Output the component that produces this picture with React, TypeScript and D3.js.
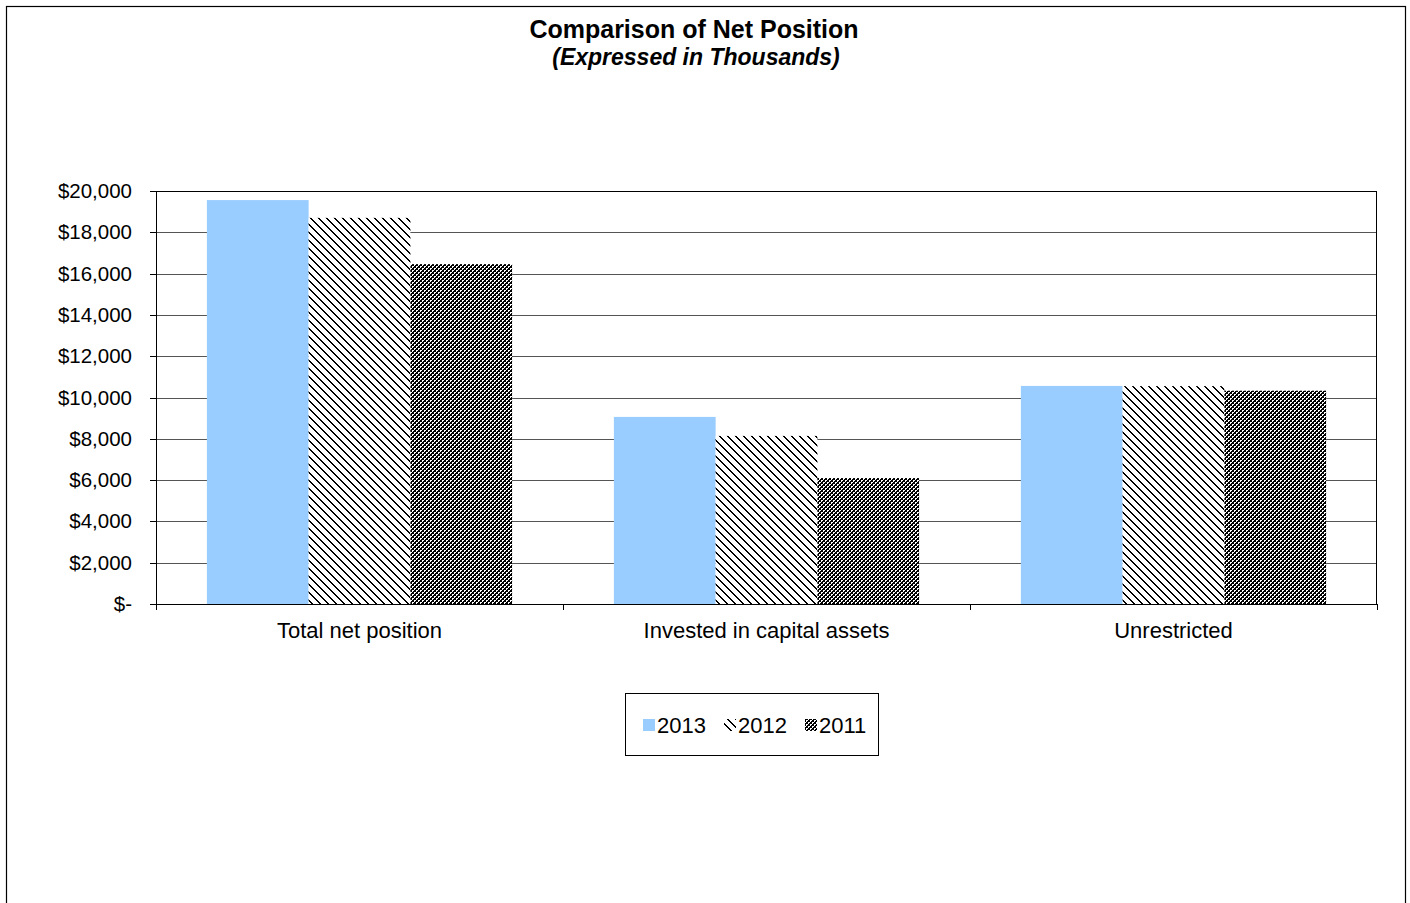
import React from "react";
import * as d3 from "d3";

const categories = ["Total net position", "Invested in capital assets", "Unrestricted"];
const seriesNames = ["2013", "2012", "2011"];
const values2013 = [19560, 9060, 10560];
const values2012 = [18700, 8140, 10550];
const values2011 = [16460, 6100, 10330];
const yTicks = [0, 2000, 4000, 6000, 8000, 10000, 12000, 14000, 16000, 18000, 20000];

const FONT = "'Liberation Sans', Arial, sans-serif";

const diagPixels: [number, number][] = [];
for (let i = 0; i < 8; i++) {
  diagPixels.push([i, i]);
  diagPixels.push([(i + 1) % 8, i]);
}

export default function App() {
  const W = 1410, H = 903;
  const left = 156, right = 1377, top = 191, bottom = 604;
  const y = d3.scaleLinear().domain([0, 20000]).range([bottom, top]);
  const x0 = d3.scaleBand<string>().domain(categories).range([left, right]).paddingInner(0).paddingOuter(0);
  const x1 = d3.scaleBand<string>().domain(seriesNames).range([0, x0.bandwidth()]).paddingInner(0).paddingOuter(0.5);
  const allValues = [values2013, values2012, values2011];
  const fills = ["#99ccff", "url(#diag)", "url(#check)"];
  const fmt = (v: number) => (v === 0 ? "$-" : "$" + d3.format(",")(v));

  const legendItems = [
    { name: seriesNames[0], fill: fills[0], sx: 643, tx: 657 },
    { name: seriesNames[1], fill: fills[1], sx: 724, tx: 738 },
    { name: seriesNames[2], fill: fills[2], sx: 805, tx: 819 },
  ];

  return (
    <svg width={W} height={H} style={{ position: "absolute", left: 0, top: 0, background: "#fff" }} fontFamily={FONT}>
      <defs>
        <pattern id="diag" width="8" height="8" patternUnits="userSpaceOnUse">
          <rect width="8" height="8" fill="#fff" />
          {diagPixels.map(([px, py], i) => (
            <rect key={i} x={px} y={py} width={1} height={1} fill="#000" shapeRendering="crispEdges" />
          ))}
        </pattern>
        <pattern id="check" width="4" height="4" patternUnits="userSpaceOnUse">
          <rect width="4" height="4" fill="#fff" />
          <rect x="0" y="0" width="2" height="2" fill="#000" shapeRendering="crispEdges" />
          <rect x="2" y="2" width="2" height="2" fill="#000" shapeRendering="crispEdges" />
          <rect x="3" y="1" width="1" height="1" fill="#000" shapeRendering="crispEdges" />
          <rect x="1" y="3" width="1" height="1" fill="#000" shapeRendering="crispEdges" />
        </pattern>
      </defs>
      <rect x={6.5} y={6.5} width={1399} height={930} fill="#fff" stroke="#000" strokeWidth={1.2} />
      <text x={694} y={38} textAnchor="middle" fontSize={25} fontWeight="bold">Comparison of Net Position</text>
      <text x={696} y={65} textAnchor="middle" fontSize={23} fontWeight="bold" fontStyle="italic">(Expressed in Thousands)</text>

      {yTicks.slice(1).map((t) => (
        <line key={"g" + t} x1={left} x2={right} y1={Math.round(y(t)) + 0.5} y2={Math.round(y(t)) + 0.5} stroke="#555" strokeWidth={1} />
      ))}

      {categories.map((c, ci) => (
        <g key={c} transform={`translate(${x0(c)},0)`}>
          {seriesNames.map((s, si) => (
            <rect key={s} x={x1(s)} y={y(allValues[si][ci])} width={x1.bandwidth()} height={bottom - y(allValues[si][ci])} fill={fills[si]} />
          ))}
        </g>
      ))}

      <line x1={left} x2={right} y1={top + 0.5} y2={top + 0.5} stroke="#000" />
      <line x1={right - 0.5} x2={right - 0.5} y1={top} y2={bottom} stroke="#000" />
      <line x1={left + 0.5} x2={left + 0.5} y1={top} y2={bottom + 4} stroke="#000" />
      <line x1={left} x2={right} y1={bottom + 0.5} y2={bottom + 0.5} stroke="#000" />

      {yTicks.map((t) => (
        <g key={"t" + t}>
          <line x1={150} x2={left} y1={Math.round(y(t)) + 0.5} y2={Math.round(y(t)) + 0.5} stroke="#000" />
          <text x={132} y={y(t) + 7} textAnchor="end" fontSize={20.5}>{fmt(t)}</text>
        </g>
      ))}

      {[...categories.map((c) => x0(c) as number), right].map((xv, i) => (
        <line key={"ct" + i} x1={Math.round(xv) + 0.5} x2={Math.round(xv) + 0.5} y1={bottom} y2={bottom + 6} stroke="#000" />
      ))}
      {categories.map((c) => (
        <text key={"cl" + c} x={(x0(c) as number) + x0.bandwidth() / 2} y={638} textAnchor="middle" fontSize={22}>{c}</text>
      ))}

      <rect x={625.5} y={693.5} width={253} height={62} fill="#fff" stroke="#000" />
      {legendItems.map((it) => (
        <g key={"l" + it.name}>
          <rect x={it.sx} y={719} width={12} height={12} fill={it.fill} />
          <text x={it.tx} y={733} fontSize={22}>{it.name}</text>
        </g>
      ))}
    </svg>
  );
}
